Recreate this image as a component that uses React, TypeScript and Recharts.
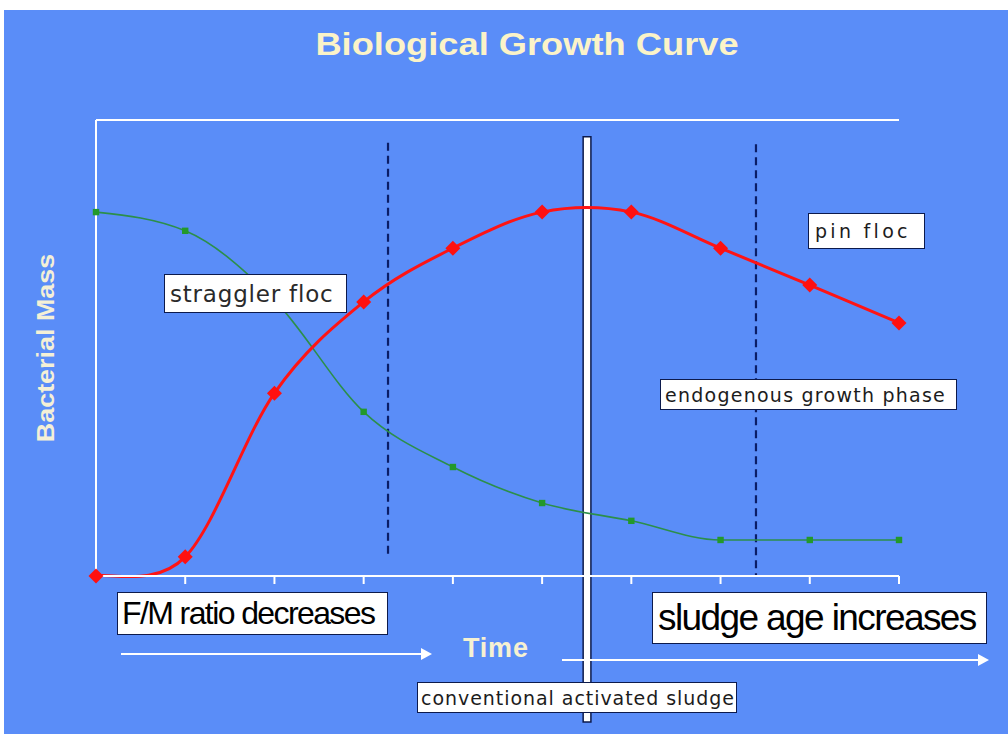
import React from 'react';
import { ComposedChart, Line, XAxis, YAxis, ReferenceLine, ReferenceArea } from 'recharts';

// Time steps (x categories) and bacterial mass values (percent of plot height)
const timeSteps = [0, 1, 2, 3, 4, 5, 6, 7, 8, 9];
const bacterialMass = [0, 4.2, 40.1, 60.1, 71.9, 79.8, 79.8, 71.9, 63.8, 55.5];
const foodRemaining = [79.8, 75.7, 60.5, 36.0, 23.9, 16.0, 12.1, 7.9, 7.9, 7.9];
const xTicks = [1, 2, 3, 4, 5, 6, 7, 8, 9];

const data = timeSteps.map((t, i) => ({ t, mass: bacterialMass[i], food: foodRemaining[i] }));

// Catmull-Rom style smooth curve (like spreadsheet "smoothed line")
const smoothCurve: any = (context: any) => {
  let pts: [number, number][] = [];
  let area = NaN;
  return {
    areaStart() { area = 0; },
    areaEnd() { area = NaN; },
    lineStart() { pts = []; },
    point(x: number, y: number) { pts.push([+x, +y]); },
    lineEnd() {
      const n = pts.length;
      if (!n) return;
      if (area === 0) context.lineTo(pts[0][0], pts[0][1]);
      else context.moveTo(pts[0][0], pts[0][1]);
      for (let i = 0; i < n - 1; i++) {
        const p0 = pts[i - 1] || pts[i];
        const p1 = pts[i];
        const p2 = pts[i + 1];
        const p3 = pts[i + 2] || pts[i + 1];
        const c1x = p1[0] + (p2[0] - p0[0]) / 6;
        const c1y = p1[1] + (p2[1] - p0[1]) / 6;
        const c2x = p2[0] - (p3[0] - p1[0]) / 6;
        const c2y = p2[1] - (p3[1] - p1[1]) / 6;
        context.bezierCurveTo(c1x, c1y, c2x, c2y, p2[0], p2[1]);
      }
      if (area === 0) context.closePath();
    },
  };
};

const Diamond = (props: any) => {
  const { cx, cy, index } = props;
  if (cx == null || cy == null) return <g key={`d-${index}`} />;
  const s = 7.5;
  return (
    <path
      key={`d-${index}`}
      d={`M${cx},${cy - s}L${cx + s},${cy}L${cx},${cy + s}L${cx - s},${cy}Z`}
      fill="#ff1010"
      stroke="none"
    />
  );
};

const Square = (props: any) => {
  const { cx, cy, index } = props;
  if (cx == null || cy == null) return <g key={`s-${index}`} />;
  const s = 3.2;
  return <rect key={`s-${index}`} x={cx - s} y={cy - s} width={2 * s} height={2 * s} fill="#23992b" />;
};

const boxBase: React.CSSProperties = {
  position: 'absolute',
  background: '#ffffff',
  border: '1.5px solid #0c1a4c',
  boxSizing: 'border-box',
  color: '#1c1c1c',
  whiteSpace: 'nowrap',
  display: 'flex',
  alignItems: 'center',
  zIndex: 3,
};

export default function App() {
  return (
    <div style={{ position: 'absolute', left: 0, top: 0, width: 1008, height: 734, background: '#ffffff', overflow: 'hidden' }}>
      <div style={{ position: 'absolute', left: 4, top: 10, width: 1004, height: 724, background: '#5a8df8' }} />
      <div
        style={{
          position: 'absolute', left: 0, top: 27, width: 1054, textAlign: 'center',
          fontFamily: '"Liberation Sans", Arial, sans-serif', fontWeight: 'bold', fontSize: 31,
          color: '#fbf3c8', zIndex: 2, transform: 'scaleX(1.17)', transformOrigin: '527px 0',
        }}
      >
        Biological Growth Curve
      </div>
      <div
        style={{
          position: 'absolute', left: 46, top: 348, transform: 'translate(-50%, -50%) rotate(-90deg) scaleX(1.17)',
          fontFamily: '"Liberation Sans", Arial, sans-serif', fontWeight: 'bold', fontSize: 23,
          color: '#f4f0d6', whiteSpace: 'nowrap', zIndex: 2,
        }}
      >
        Bacterial Mass
      </div>
      <div style={{ position: 'absolute', left: 0, top: 0, zIndex: 1 }}>
        <ComposedChart width={1008} height={734} data={data} margin={{ top: 120, right: 109, left: 96, bottom: 128 }}>
          <XAxis
            dataKey="t"
            type="number"
            domain={[0, 9]}
            ticks={xTicks}
            height={30}
            tickFormatter={() => ''}
            tickSize={8}
            tickLine={{ stroke: '#ffffff', strokeWidth: 2 }}
            axisLine={{ stroke: '#ffffff', strokeWidth: 2 }}
          />
          <YAxis type="number" domain={[0, 100]} width={0} tick={false} tickLine={false} axisLine={false} />
          <ReferenceLine y={100} stroke="#ffffff" strokeWidth={2} />
          <ReferenceLine x={0} stroke="#ffffff" strokeWidth={2} />
          <ReferenceLine
            segment={[{ x: 3.273, y: 95.0 }, { x: 3.273, y: 3.95 }]}
            stroke="#0b1d66"
            strokeWidth={2.2}
            strokeDasharray="8 5"
          />
          <ReferenceLine
            segment={[{ x: 7.397, y: 94.7 }, { x: 7.397, y: 0.2 }]}
            stroke="#0b1d66"
            strokeWidth={2.2}
            strokeDasharray="8 5"
          />
          <Line
            dataKey="food"
            type="monotone"
            stroke="#2c8f4a"
            strokeWidth={1.6}
            dot={Square}
            activeDot={false}
            isAnimationActive={false}
          />
          <Line
            dataKey="mass"
            type={smoothCurve}
            stroke="#ff1414"
            strokeWidth={3}
            dot={Diamond}
            activeDot={false}
            isAnimationActive={false}
          />
          <ReferenceArea
            x1={5.46}
            x2={5.547}
            y1={-32.0}
            y2={96.3}
            ifOverflow="visible"
            fill="#ffffff"
            fillOpacity={1}
            stroke="#0c1a4c"
            strokeWidth={1.5}
          />
        </ComposedChart>
      </div>

      <div style={{ ...boxBase, left: 164, top: 274, width: 183, height: 39, paddingLeft: 5, fontFamily: '"DejaVu Sans", Verdana, sans-serif', fontSize: 23, letterSpacing: 0.8, color: '#2a2a2a' }}>
        straggler floc
      </div>
      <div style={{ ...boxBase, left: 808, top: 213, width: 117, height: 36, paddingLeft: 6, fontFamily: '"DejaVu Sans", Verdana, sans-serif', fontSize: 19, letterSpacing: 3.3 }}>
        pin floc
      </div>
      <div style={{ ...boxBase, left: 660, top: 379, width: 297, height: 31, paddingLeft: 4, fontFamily: '"DejaVu Sans", Verdana, sans-serif', fontSize: 19, letterSpacing: 1.25 }}>
        endogenous growth phase
      </div>
      <div style={{ ...boxBase, left: 117, top: 592, width: 271, height: 43, paddingLeft: 4, fontFamily: '"Liberation Sans", Arial, sans-serif', fontSize: 32, letterSpacing: -1.6, color: '#000' }}>
        F/M ratio decreases
      </div>
      <div style={{ ...boxBase, left: 652, top: 592, width: 335, height: 52, paddingLeft: 5, fontFamily: '"Liberation Sans", Arial, sans-serif', fontSize: 37, letterSpacing: -1.6, color: '#000' }}>
        sludge age increases
      </div>
      <div style={{ ...boxBase, left: 417, top: 682, width: 320, height: 31, paddingLeft: 3, fontFamily: '"DejaVu Sans", Verdana, sans-serif', fontSize: 19, letterSpacing: 0.95 }}>
        conventional activated sludge
      </div>
      <div
        style={{
          position: 'absolute', left: 463, top: 633, fontFamily: '"Liberation Sans", Arial, sans-serif',
          fontWeight: 'bold', fontSize: 27, letterSpacing: 0.8, color: '#f6f1d2', zIndex: 3,
        }}
      >
        Time
      </div>
      <svg width={1008} height={734} style={{ position: 'absolute', left: 0, top: 0, zIndex: 2, pointerEvents: 'none' }}>
        <line x1={121} y1={654} x2={424} y2={654} stroke="#ffffff" strokeWidth={2} />
        <path d="M432,654 L421,648 L421,660 Z" fill="#ffffff" />
        <line x1={562} y1={660} x2={980} y2={660} stroke="#ffffff" strokeWidth={2} />
        <path d="M989,660 L978,654 L978,666 Z" fill="#ffffff" />
      </svg>
    </div>
  );
}
